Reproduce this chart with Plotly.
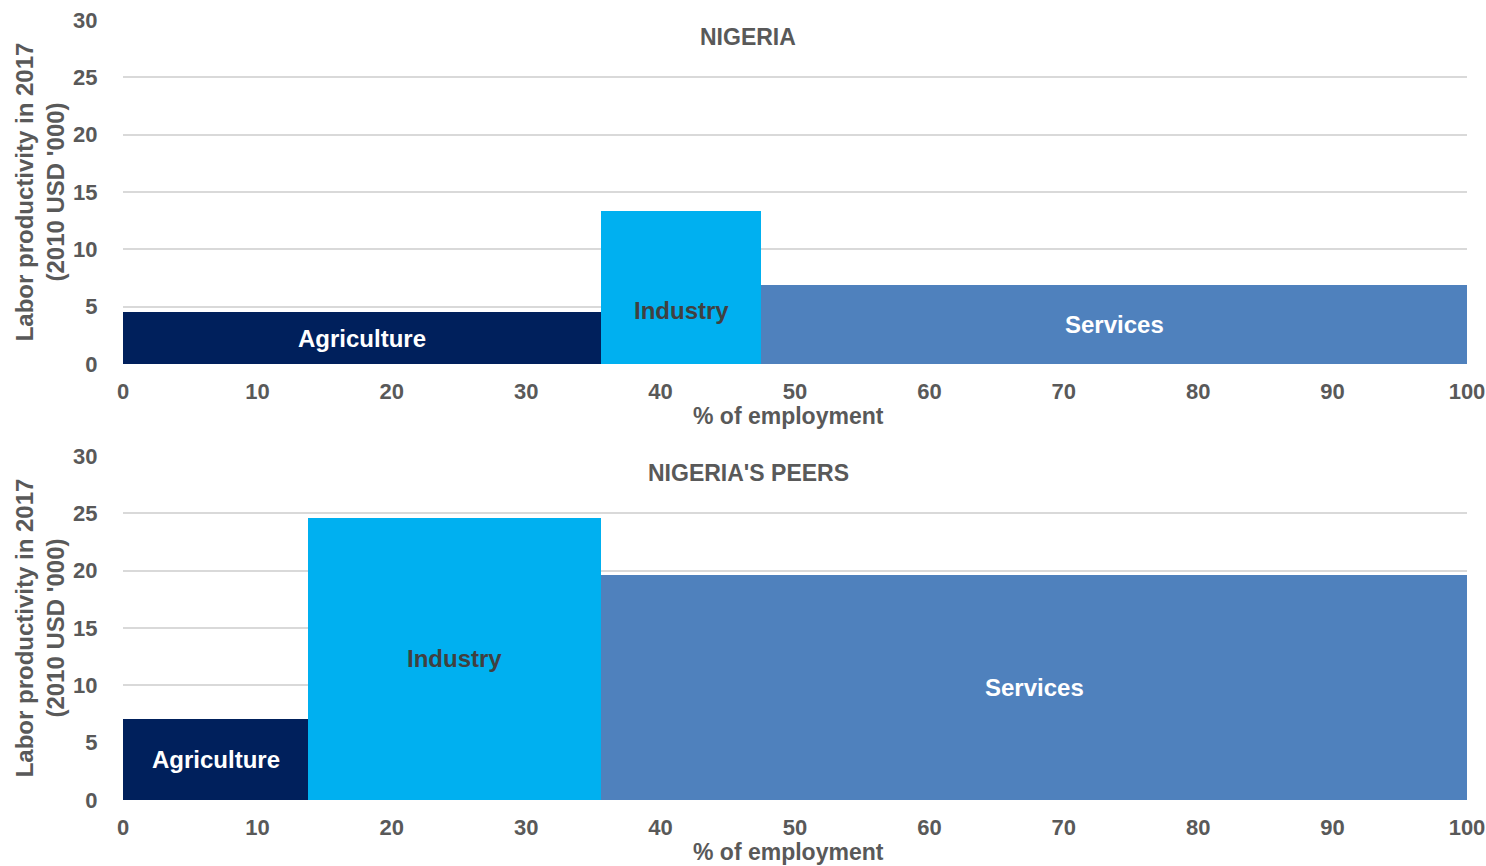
import plotly.graph_objects as go
from plotly.subplots import make_subplots

# Sector data: share of employment (%) and labor productivity (2010 USD '000)
sectors = ["Agriculture", "Industry", "Services"]
nigeria_share = [35.6, 11.9, 52.5]
nigeria_productivity = [4.5, 13.3, 6.9]
peers_share = [13.8, 21.8, 64.4]
peers_productivity = [7.1, 24.6, 19.6]
panel_titles = ["NIGERIA", "NIGERIA'S PEERS"]
x_ticks = list(range(0, 101, 10))
y_ticks = list(range(0, 31, 5))

colors = ["#00205C", "#00B0F0", "#4F81BD"]
label_colors = ["#FFFFFF", "#404040", "#FFFFFF"]
FONT = "Liberation Sans, Arial, sans-serif"
GRAY = "#595959"

W, H = 1486, 866
ML, MR, MT, MB = 123, 19, 20, 66

fig = make_subplots(rows=2, cols=1, vertical_spacing=0.118)


def centers_of(shares):
    lefts, acc = [], 0.0
    for s in shares:
        lefts.append(acc)
        acc += s
    return [l + s / 2 for l, s in zip(lefts, shares)]


# panel titles sit near the middle of the full figure width
title_x = (W / 2 + 5 - ML) / (W - ML - MR)

panels = [(nigeria_share, nigeria_productivity), (peers_share, peers_productivity)]
for row, (shares, prod) in enumerate(panels, start=1):
    centers = centers_of(shares)
    fig.add_trace(
        go.Bar(
            x=centers,
            y=prod,
            width=shares,
            marker=dict(color=colors, line=dict(width=0)),
            showlegend=False,
            hoverinfo="skip",
        ),
        row=row,
        col=1,
    )
    xref = "x" if row == 1 else "x2"
    yref = "y" if row == 1 else "y2"
    for i, name in enumerate(sectors):
        shift = 0
        if row == 1 and name == "Industry":
            shift = -23
        fig.add_annotation(
            x=centers[i], y=prod[i] / 2, xref=xref, yref=yref,
            text=f"<b>{name}</b>", showarrow=False, yshift=shift,
            font=dict(family=FONT, size=24, color=label_colors[i]),
        )
    fig.add_annotation(
        x=title_x, y=1, xref="paper", yref=f"{yref} domain",
        text=f"<b>{panel_titles[row - 1]}</b>", showarrow=False,
        yanchor="top", yshift=-2,
        font=dict(family=FONT, size=23, color=GRAY),
    )
    # x-axis title placed just beneath the tick labels
    fig.add_annotation(
        x=0.495, y=0, xref=f"{xref} domain", yref=f"{yref} domain",
        text="<b>% of employment</b>", showarrow=False,
        yanchor="middle", yshift=-52,
        font=dict(family=FONT, size=23, color=GRAY),
    )

axis_font = dict(family=FONT, size=22, color=GRAY)
for row in (1, 2):
    fig.update_xaxes(
        range=[0, 100], tickvals=x_ticks,
        ticktext=[f"<b>{v}</b>" for v in x_ticks],
        tickfont=axis_font, showgrid=False, zeroline=False, showline=False,
        ticks="outside", ticklen=8, tickcolor="rgba(0,0,0,0)",
        automargin=False, ticklabeloverflow="allow",
        row=row, col=1,
    )
    fig.update_yaxes(
        range=[0, 30], tickvals=y_ticks,
        ticktext=[f"<b>{v}</b>" for v in y_ticks],
        tickfont=axis_font, showgrid=True, gridcolor="#D9D9D9", gridwidth=2,
        zeroline=False, showline=False,
        ticks="outside", ticklen=20, tickcolor="rgba(0,0,0,0)",
        automargin=False, ticklabeloverflow="allow",
        title=dict(text="<b>Labor productivity in 2017<br>(2010 USD '000)</b>",
                   font=dict(family=FONT, size=24, color=GRAY), standoff=1),
        row=row, col=1,
    )

fig.update_layout(
    width=W, height=H,
    margin=dict(l=ML, r=MR, t=MT, b=MB),
    paper_bgcolor="white", plot_bgcolor="white",
    bargap=0,
)

fig.write_html("out.html")
